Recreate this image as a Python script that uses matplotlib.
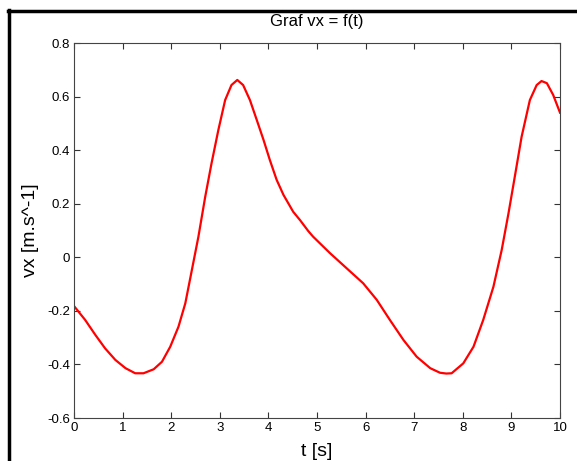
import matplotlib.pyplot as plt
from matplotlib.lines import Line2D

plt.rcParams["font.family"] = ["Liberation Sans", "DejaVu Sans"]

# values
t = [0.0, 0.23, 0.44, 0.64, 0.85, 1.06, 1.26, 1.43, 1.64, 1.81, 1.98, 2.15,
     2.29, 2.39, 2.56, 2.70, 2.83, 2.97, 3.11, 3.24, 3.36, 3.48, 3.62, 3.76,
     3.90, 4.03, 4.17, 4.31, 4.51, 4.65, 4.82, 4.92, 5.27, 5.61, 5.95, 6.23,
     6.50, 6.78, 7.05, 7.33, 7.53, 7.66, 7.77, 8.01, 8.22, 8.42, 8.63, 8.80,
     8.94, 9.07, 9.21, 9.38, 9.52, 9.62, 9.73, 9.86, 10.0]
vx = [-0.182, -0.234, -0.290, -0.340, -0.383, -0.414, -0.433, -0.433, -0.418,
      -0.390, -0.334, -0.259, -0.172, -0.080, 0.077, 0.226, 0.351, 0.475,
      0.587, 0.643, 0.662, 0.643, 0.587, 0.513, 0.438, 0.363, 0.289, 0.233,
      0.170, 0.139, 0.098, 0.077, 0.015, -0.041, -0.097, -0.159, -0.234,
      -0.309, -0.371, -0.414, -0.431, -0.434, -0.433, -0.396, -0.334, -0.234,
      -0.110, 0.027, 0.164, 0.301, 0.450, 0.587, 0.643, 0.658, 0.650, 0.606,
      0.540]

x_ticks = list(range(0, 11))
y_ticks = [-0.6, -0.4, -0.2, 0, 0.2, 0.4, 0.6, 0.8]
y_tick_labels = ["-0.6", "-0.4", "-0.2", "0", "0.2", "0.4", "0.6", "0.8"]

W, H = 577, 461
fig = plt.figure(figsize=(W / 100, H / 100), dpi=100)
ax = fig.add_axes([74 / W, 1 - 418 / H, (560 - 74) / W, (418 - 43) / H])

ax.plot(t, vx, color="red", linewidth=1.6)

ax.set_xlim(0, 10)
ax.set_ylim(-0.6, 0.8)
ax.set_xticks(x_ticks)
ax.set_yticks(y_ticks)
ax.set_yticklabels(y_tick_labels)
ax.tick_params(direction="in", length=4, width=0.8, top=True, right=True,
               labelsize=9.5, colors="#333333", labelcolor="black", pad=3)
for s in ax.spines.values():
    s.set_color("#444444")
    s.set_linewidth(0.8)

ax.set_title("Graf vx = f(t)", fontsize=12, pad=12)
ax.set_xlabel("t [s]", fontsize=14, labelpad=6)
ax.set_ylabel("vx [m.s^-1]", fontsize=14, labelpad=6)

# black frame at left and top of the figure
fig.add_artist(Line2D([9 / W, 9 / W], [0, 1 - 10 / H], transform=fig.transFigure,
                      color="black", linewidth=2.5))
fig.add_artist(Line2D([8 / W, 1], [1 - 11 / H, 1 - 11 / H], transform=fig.transFigure,
                      color="black", linewidth=2.5))

fig.savefig("out.png", dpi=100)
